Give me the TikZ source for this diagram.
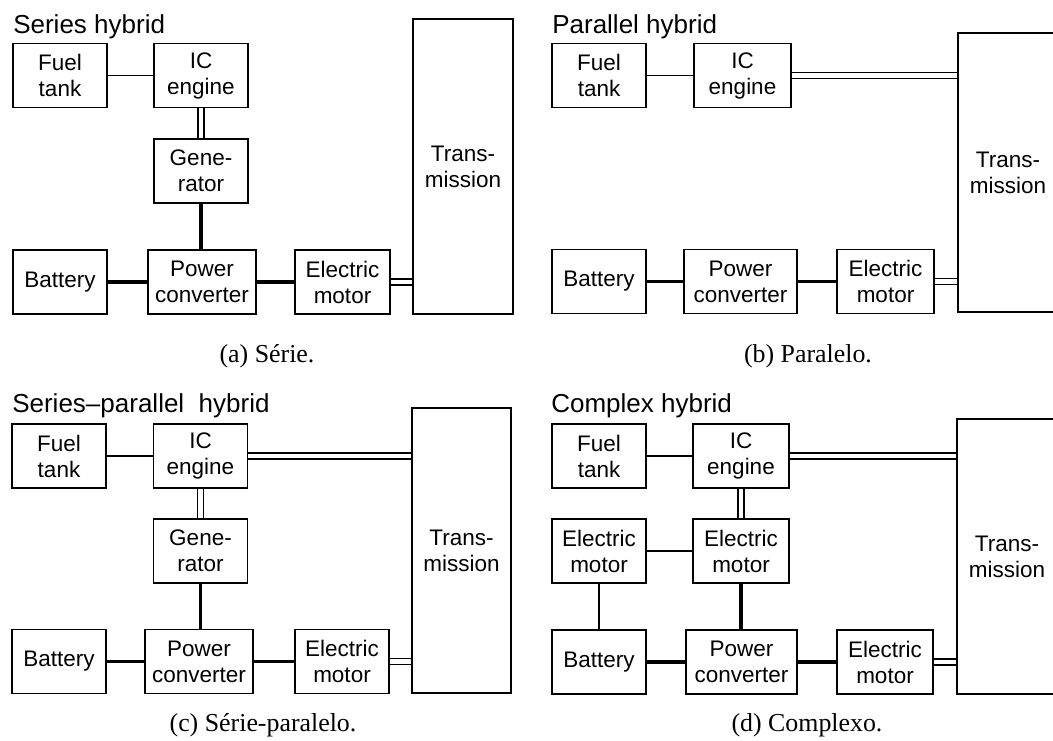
\documentclass[tikz,border=0pt]{standalone}
\usepackage{fontspec}
\setmainfont{Liberation Serif}
\setsansfont{Liberation Sans}
\usetikzlibrary{positioning,calc,backgrounds}

\begin{document}
\begin{tikzpicture}[
  box/.style={draw, line width=1.1pt, minimum width=2.35cm, minimum height=1.6cm,
    inner sep=0pt, align=center, font=\sffamily\fontsize{16}{18.5}\selectfont},
  title/.style={anchor=base west, inner sep=0pt, font=\sffamily\fontsize{18.5}{22}\selectfont},
  capt/.style={anchor=base, inner sep=0pt, font=\fontsize{18.4}{22}\selectfont},
  wire/.style={line width=1pt},
  elec/.style={line width=2.2pt},
  mech/.style={double, double distance=3.4pt, line width=1.1pt}
]
\useasboundingbox (0,0) rectangle (26.325,-18.5);

% (a) series
\node[title] (ta) at (0.325,-0.825) {Series hybrid};
\node[box] (fa) at (1.5,-1.8875) {Fuel\\tank};
\node[box] (ica) at (5.025,-1.8875) {IC\\engine};
\node[box] (gena) at (5.025,-4.275) {Gene-\\rator};
\node[box] (bata) at (1.5,-7.05) {Battery};
\node[box, minimum width=2.7cm] (pca) at (5.05,-7.05) {Power\\converter};
\node[box, minimum width=2.375cm] (ema) at (8.5625,-7.05) {Electric\\motor};
\node[box, minimum width=2.5cm, minimum height=7.375cm] (tra) at (11.575,-4.1625) {Trans-\\mission};
\node[capt] (ca) at (6.675,-9.05) {(a) Série.};
\begin{scope}[on background layer]
\draw[wire] (fa) -- (ica);
\draw[mech] (ica) -- (gena);
\draw[elec] (gena.south) -- (gena.south |- pca.north);
\draw[elec] (bata) -- (pca);
\draw[elec] (pca) -- (ema);
\draw[mech] (ema.east) -- (ema.east -| tra.west);
\end{scope}

% (b) parallel
\node[title] (tb) at (13.8,-0.825) {Parallel hybrid};
\node[box] (fb) at (14.975,-1.8875) {Fuel\\tank};
\node[box, minimum width=2.425cm] (icb) at (18.5625,-1.8875) {IC\\engine};
\node[box] (batb) at (14.975,-7.0375) {Battery};
\node[box, minimum width=2.825cm] (pcb) at (18.5125,-7.0375) {Power\\converter};
\node[box, minimum width=2.425cm] (emb) at (22.1375,-7.0375) {Electric\\motor};
\node[box, minimum width=2.5cm, minimum height=6.975cm] (trb) at (25.2,-4.3125) {Trans-\\mission};
\node[capt] (cb) at (20.2,-9.05) {(b) Paralelo.};
\begin{scope}[on background layer]
\draw[wire] (fb) -- (icb);
\draw[mech] (icb.east) -- (icb.east -| trb.west);
\draw[elec] (batb) -- (pcb);
\draw[elec] (pcb) -- (emb);
\draw[mech] (emb.east) -- (emb.east -| trb.west);
\end{scope}

% (c) series-parallel
\node[title] (tc) at (0.3,-10.3) {Series–parallel\ \ hybrid};
\node[box] (fc) at (1.475,-11.4) {Fuel\\tank};
\node[box] (icc) at (5.0125,-11.4) {IC\\engine};
\node[box] (genc) at (5.0125,-13.775) {Gene-\\rator};
\node[box] (batc) at (1.475,-16.5375) {Battery};
\node[box, minimum width=2.7cm] (pcc) at (4.975,-16.5375) {Power\\converter};
\node[box] (emc) at (8.55,-16.5375) {Electric\\motor};
\node[box, minimum width=2.475cm, minimum height=7.125cm] (trc) at (11.5375,-13.7625) {Trans-\\mission};
\node[capt] (cc) at (6.575,-18.275) {(c) Série-paralelo.};
\begin{scope}[on background layer]
\draw[wire] (fc) -- (icc);
\draw[mech] (icc) -- (genc);
\draw[mech] (icc.east) -- (icc.east -| trc.west);
\draw[elec] (genc.south) -- (genc.south |- pcc.north);
\draw[elec] (batc) -- (pcc);
\draw[elec] (pcc) -- (emc);
\draw[mech] (emc.east) -- (emc.east -| trc.west);
\end{scope}

% (d) complex
\node[title] (td) at (13.775,-10.3) {Complex hybrid};
\node[box] (fd) at (14.975,-11.4) {Fuel\\tank};
\node[box, minimum width=2.4cm] (icd) at (18.525,-11.4) {IC\\engine};
\node[box] (emd1) at (14.975,-13.775) {Electric\\motor};
\node[box, minimum width=2.4cm] (emd2) at (18.525,-13.775) {Electric\\motor};
\node[box] (batd) at (14.975,-16.55) {Battery};
\node[box, minimum width=2.775cm] (pcd) at (18.5375,-16.55) {Power\\converter};
\node[box, minimum width=2.4cm] (emd3) at (22.125,-16.55) {Electric\\motor};
\node[box, minimum width=2.5cm, minimum height=6.875cm] (trd) at (25.175,-13.9125) {Trans-\\mission};
\node[capt] (cd) at (20.175,-18.275) {(d) Complexo.};
\begin{scope}[on background layer]
\draw[wire] (fd) -- (icd);
\draw[mech] (icd.east) -- (icd.east -| trd.west);
\draw[mech] (icd) -- (emd2);
\draw[wire] (emd1) -- (emd2);
\draw[wire] (emd1) -- (batd);
\draw[elec] (emd2.south) -- (emd2.south |- pcd.north);
\draw[elec] (batd) -- (pcd);
\draw[elec] (pcd) -- (emd3);
\draw[mech] (emd3.east) -- (emd3.east -| trd.west);
\end{scope}
\end{tikzpicture}
\end{document}
